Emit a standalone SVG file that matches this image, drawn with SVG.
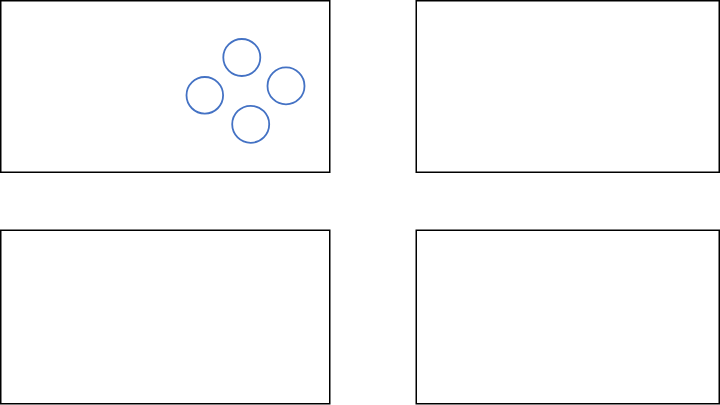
<svg xmlns="http://www.w3.org/2000/svg" width="720" height="405" viewBox="0 0 720 405">
<style>
.box{fill:#ffffff;stroke:#000000;stroke-width:1.5}
.c{fill:none;stroke:#4472C4;stroke-width:1.8}
</style>
<rect width="720" height="405" fill="#ffffff"/>
<g id="panel-top-left"><rect class="box" x="0.75" y="0.75" width="329" height="171.5"/></g>
<g id="panel-top-right"><rect class="box" x="416.25" y="0.75" width="303" height="171.5"/></g>
<g id="panel-bottom-left"><rect class="box" x="0.75" y="230.25" width="329" height="173.5"/></g>
<g id="panel-bottom-right"><rect class="box" x="416.25" y="230.25" width="303" height="173.5"/></g>
<g id="circle-top"><circle class="c" cx="241.8" cy="57.5" r="18.5"/></g>
<g id="circle-left"><circle class="c" cx="204.8" cy="95.3" r="18.3"/></g>
<g id="circle-right"><circle class="c" cx="286" cy="85.9" r="18.5"/></g>
<g id="circle-bottom"><circle class="c" cx="250.7" cy="124.3" r="18.5"/></g>
<g id="connectors"></g>
</svg>
